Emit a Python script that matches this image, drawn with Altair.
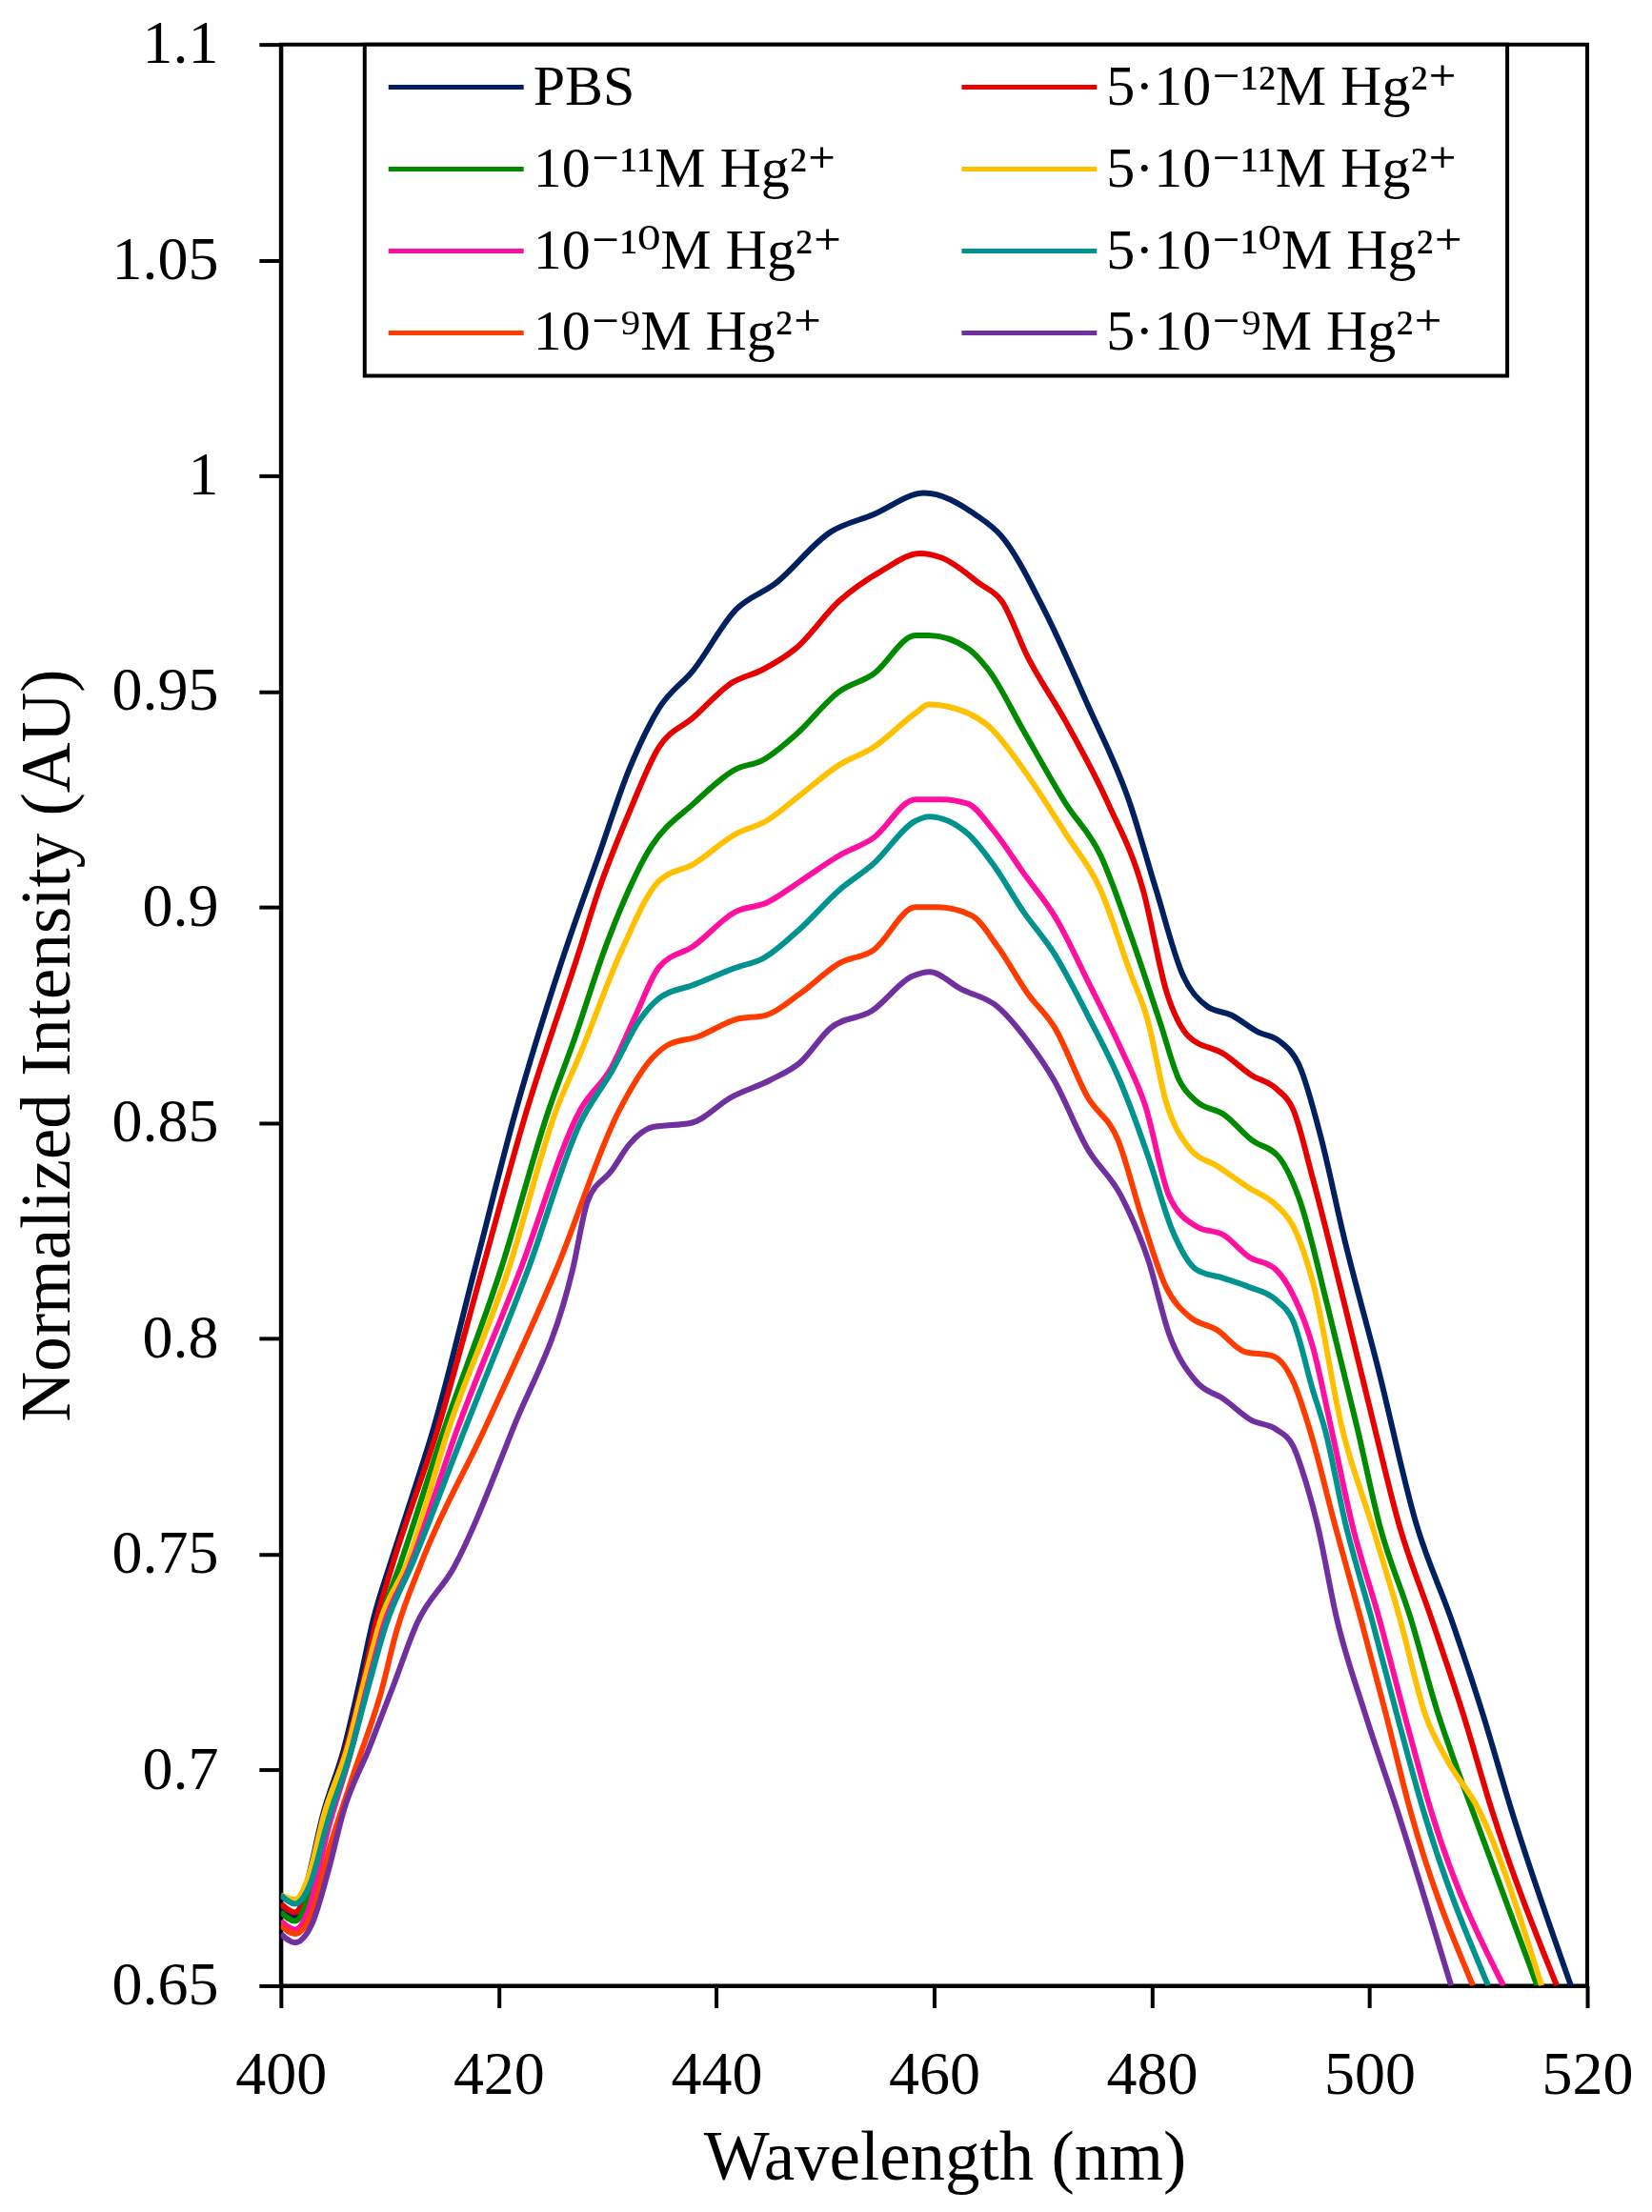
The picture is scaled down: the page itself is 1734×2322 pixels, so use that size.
import altair as alt
import pandas as pd

# ---- data ----
series_names = [
    "PBS",
    "5·10⁻¹²M Hg²⁺",
    "10⁻¹¹M Hg²⁺",
    "5·10⁻¹¹M Hg²⁺",
    "10⁻¹⁰M Hg²⁺",
    "5·10⁻¹⁰M Hg²⁺",
    "10⁻⁹M Hg²⁺",
    "5·10⁻⁹M Hg²⁺",
]
series_colors = ["#002060", "#E60000", "#008A00", "#FFC000",
                 "#FF10A0", "#00928F", "#FF3C00", "#7030A0"]

pbs_nm = [400.0, 401.3, 402.3, 403.9, 405.8, 407.2, 408.5, 410.2, 412.0, 414.0, 417.8, 421.6, 426.0,
          429.2, 432.0, 434.7, 437.9, 441.8, 445.4, 450.5, 454.4, 459.1, 463.8, 466.2, 470.1, 474.1,
          478.0, 480.4, 482.9, 485.1, 487.3, 489.8, 491.7, 493.6, 495.5, 497.7, 500.8, 504.3, 507.5,
          510.4, 513.0, 518.5]
pbs_v = [0.668, 0.666, 0.673, 0.690, 0.705, 0.720, 0.735, 0.749, 0.763, 0.779, 0.816, 0.853, 0.889,
         0.912, 0.932, 0.946, 0.955, 0.969, 0.975, 0.987, 0.991, 0.996, 0.991, 0.986, 0.969, 0.947,
         0.924, 0.904, 0.884, 0.877, 0.875, 0.871, 0.869, 0.863, 0.847, 0.823, 0.793, 0.757, 0.735,
         0.713, 0.691, 0.650]

m5e12_nm = [400.0, 401.3, 402.5, 404.0, 406.0, 407.5, 408.8, 410.3, 414.4, 418.5, 422.6, 427.3,
            429.2, 432.0, 434.7, 437.9, 441.4, 444.2, 447.3, 451.3, 455.2, 458.7, 460.7, 464.2,
            466.2, 468.6, 472.1, 476.0, 479.2, 481.4, 483.4, 486.6, 489.2, 491.4, 493.0, 494.8,
            497.7, 500.5, 502.7, 505.7, 508.6, 511.2, 517.2]
m5e12_v = [0.669, 0.667, 0.673, 0.689, 0.705, 0.720, 0.735, 0.748, 0.779, 0.816, 0.853, 0.889,
           0.904, 0.922, 0.937, 0.944, 0.952, 0.955, 0.960, 0.971, 0.978, 0.982, 0.981, 0.975,
           0.971, 0.958, 0.943, 0.924, 0.904, 0.880, 0.870, 0.866, 0.861, 0.858, 0.853, 0.837,
           0.808, 0.779, 0.757, 0.735, 0.713, 0.691, 0.650]

m1e11_nm = [400.0, 401.3, 402.6, 404.2, 406.2, 407.7, 409.2, 411.0, 415.0, 420.2, 424.6, 426.9,
            430.0, 434.0, 437.9, 441.8, 444.2, 447.3, 451.3, 454.4, 458.3, 459.5, 463.1, 465.0,
            468.2, 472.1, 475.3, 478.0, 480.8, 482.5, 484.1, 486.6, 489.2, 491.7, 493.6, 496.1,
            498.9, 500.9, 503.8, 506.3, 507.8, 509.4, 515.4]
m1e11_v = [0.667, 0.665, 0.671, 0.688, 0.705, 0.720, 0.735, 0.748, 0.779, 0.816, 0.853, 0.869,
           0.892, 0.914, 0.924, 0.932, 0.934, 0.940, 0.950, 0.954, 0.963, 0.963, 0.960, 0.955,
           0.941, 0.924, 0.912, 0.894, 0.873, 0.860, 0.855, 0.852, 0.846, 0.842, 0.832, 0.808,
           0.779, 0.757, 0.735, 0.713, 0.702, 0.691, 0.650]

m5e11_nm = [400.0, 401.3, 402.5, 404.0, 406.1, 407.6, 409.2, 411.6, 415.4, 420.9, 425.3, 427.5,
            431.3, 434.7, 437.9, 441.8, 444.6, 447.7, 451.3, 454.4, 458.3, 459.5, 463.1, 465.0,
            468.2, 472.1, 475.3, 478.0, 479.6, 481.3, 483.5, 486.0, 488.9, 491.4, 493.0, 494.8,
            497.5, 500.2, 502.8, 505.1, 507.2, 510.0, 515.8]
m5e11_v = [0.671, 0.670, 0.675, 0.690, 0.705, 0.720, 0.735, 0.748, 0.779, 0.816, 0.853, 0.866,
           0.890, 0.906, 0.910, 0.917, 0.920, 0.926, 0.933, 0.937, 0.945, 0.947, 0.945, 0.942,
           0.932, 0.917, 0.904, 0.885, 0.874, 0.855, 0.844, 0.840, 0.835, 0.831, 0.826, 0.813,
           0.779, 0.757, 0.735, 0.713, 0.702, 0.691, 0.650]

m1e10_nm = [400.0, 401.3, 402.6, 404.3, 406.3, 407.9, 409.5, 411.8, 416.2, 422.0, 427.5, 430.4,
            432.6, 434.7, 437.9, 441.8, 444.6, 447.7, 451.3, 454.4, 458.3, 460.7, 463.1, 465.4,
            468.2, 471.3, 474.1, 477.2, 479.4, 481.6, 484.1, 486.6, 488.9, 491.4, 493.0, 494.8,
            496.5, 498.4, 500.9, 503.2, 505.6, 512.3]
m1e10_v = [0.665, 0.663, 0.668, 0.686, 0.703, 0.719, 0.734, 0.747, 0.779, 0.816, 0.853, 0.863,
           0.875, 0.886, 0.891, 0.899, 0.901, 0.906, 0.912, 0.916, 0.925, 0.925, 0.924, 0.918,
           0.908, 0.897, 0.883, 0.867, 0.854, 0.833, 0.826, 0.824, 0.819, 0.816, 0.810, 0.798,
           0.779, 0.757, 0.735, 0.713, 0.691, 0.650]

m5e10_nm = [400.0, 401.3, 402.6, 404.3, 406.4, 408.0, 409.7, 412.1, 416.9, 422.7, 427.5, 430.4,
            433.0, 434.8, 437.9, 441.8, 444.2, 447.7, 451.3, 454.4, 458.3, 459.5, 463.1, 465.4,
            468.2, 471.1, 474.1, 477.2, 479.7, 481.9, 484.1, 486.6, 488.9, 491.4, 493.0, 494.8,
            495.9, 497.8, 500.2, 502.5, 504.9, 510.9]
m5e10_v = [0.671, 0.669, 0.673, 0.688, 0.704, 0.719, 0.734, 0.748, 0.779, 0.816, 0.850, 0.862,
           0.874, 0.879, 0.882, 0.886, 0.888, 0.895, 0.904, 0.910, 0.920, 0.921, 0.917, 0.910,
           0.899, 0.889, 0.875, 0.859, 0.842, 0.825, 0.816, 0.814, 0.812, 0.809, 0.804, 0.788,
           0.779, 0.757, 0.735, 0.713, 0.691, 0.650]

m1e9_nm = [400.0, 401.3, 402.7, 404.6, 406.8, 409.2, 410.6, 412.9, 418.7, 425.3, 431.1, 434.1,
           435.5, 438.3, 441.8, 444.6, 447.7, 451.3, 454.4, 458.3, 460.3, 463.5, 465.8, 468.6,
           471.1, 474.1, 476.9, 479.1, 481.3, 483.5, 486.0, 488.5, 491.1, 493.0, 494.5, 496.8,
           499.2, 501.5, 503.7, 509.5]
m1e9_v = [0.664, 0.662, 0.666, 0.683, 0.700, 0.718, 0.732, 0.748, 0.779, 0.816, 0.853, 0.865,
          0.868, 0.870, 0.874, 0.875, 0.880, 0.887, 0.890, 0.900, 0.900, 0.898, 0.891, 0.880,
          0.872, 0.856, 0.846, 0.828, 0.812, 0.805, 0.802, 0.797, 0.796, 0.790, 0.779, 0.757,
          0.735, 0.713, 0.691, 0.650]

m5e9_nm = [400.0, 401.3, 402.8, 404.5, 405.7, 408.1, 410.4, 412.5, 415.9, 421.3, 426.8, 428.2,
           430.4, 432.0, 434.1, 437.7, 441.4, 445.0, 447.7, 450.5, 454.3, 458.0, 459.6, 462.5,
           465.8, 468.6, 471.0, 474.1, 477.2, 479.7, 481.6, 484.1, 486.6, 489.2, 491.4, 493.0,
           494.0, 495.2, 497.0, 499.6, 502.5, 507.5]
m5e9_v = [0.662, 0.660, 0.664, 0.678, 0.690, 0.705, 0.720, 0.734, 0.747, 0.779, 0.816, 0.832,
          0.839, 0.845, 0.849, 0.850, 0.856, 0.860, 0.864, 0.872, 0.876, 0.884, 0.885, 0.881,
          0.877, 0.869, 0.860, 0.844, 0.833, 0.818, 0.801, 0.790, 0.786, 0.781, 0.779, 0.775,
          0.768, 0.757, 0.735, 0.713, 0.691, 0.650]

x_ticks = [400, 420, 440, 460, 480, 500, 520]
y_ticks = [0.65, 0.7, 0.75, 0.8, 0.85, 0.9, 0.95, 1.0, 1.05, 1.1]

all_nm = [pbs_nm, m5e12_nm, m1e11_nm, m5e11_nm, m1e10_nm, m5e10_nm, m1e9_nm, m5e9_nm]
all_v = [pbs_v, m5e12_v, m1e11_v, m5e11_v, m1e10_v, m5e10_v, m1e9_v, m5e9_v]

rows = []
for k, (name, xs, ys) in enumerate(zip(series_names, all_nm, all_v)):
    for x, y in zip(xs, ys):
        rows.append({"series": name, "nm": x, "v": y, "k": k})
df = pd.DataFrame(rows)

FONT = "Liberation Serif"
LEGEND_FONT = "Liberation Serif, DejaVu Serif"
# trailing blank room inside the legend frame (zero-width end char keeps it from being trimmed)
pad = "\u00a0\u00a0\u200b"
# legend key: a long horizontal stroke (unit path scaled by sqrt(size)/2 = 10 px)
legend_line = "M-2.75,0M-2,0H12.2"

chart = alt.Chart(df).mark_line(
    strokeWidth=6, interpolate="monotone", clip=True
).encode(
    x=alt.X("nm:Q",
            scale=alt.Scale(domain=[400, 520], nice=False, zero=False),
            axis=alt.Axis(values=x_ticks, format="d", title="Wavelength (nm)",
                          titleX=697, titleY=203, titleAlign="center",
                          titleBaseline="alphabetic", labelFlush=False,
                          labelPadding=39, tickSize=23)),
    y=alt.Y("v:Q",
            scale=alt.Scale(domain=[0.65, 1.1], nice=False, zero=False),
            axis=alt.Axis(values=y_ticks, format="~g",
                          title="Normalized Intensity (AU)",
                          titleX=-222, titleY=1051, titleAngle=270,
                          titleAlign="center", titleBaseline="alphabetic",
                          labelFlush=False, labelPadding=43, tickSize=23)),
    color=alt.Color("series:N",
                    scale=alt.Scale(domain=series_names, range=series_colors),
                    legend=alt.Legend(
                        title=None, orient="none", legendX=88, legendY=0,
                        direction="horizontal",
                        columns=2, gridAlign="each", columnPadding=106,
                        rowPadding=26, padding=15,
                        symbolType=legend_line, symbolSize=400,
                        symbolStrokeWidth=5, symbolOffset=0,
                        labelOffset=102, labelFont=LEGEND_FONT, labelFontSize=60,
                        labelColor="black", labelLimit=2000,
                        labelExpr="indexof(datum.label, '5') == 0 ? datum.label + '" + pad + "' : datum.label",
                        strokeColor="black", fillColor="white")),
    detail="k:N",
    order="nm:Q",
).properties(
    width=1372, height=2039,
    autosize=alt.AutoSizeParams(type="none"),
    padding={"left": 287, "top": 38, "right": 60, "bottom": 230},
).configure_view(
    stroke="black", strokeWidth=4
).configure_axis(
    grid=False, domainColor="black", domainWidth=4,
    tickColor="black", tickWidth=4,
    labelFont=FONT, labelFontSize=64, labelColor="black",
    titleFont=FONT, titleFontSize=73, titleFontWeight="normal", titleColor="black",
).configure_legend(
    strokeWidth=4
)

chart.save("out.html", embed_options={"renderer": "svg", "actions": False})
